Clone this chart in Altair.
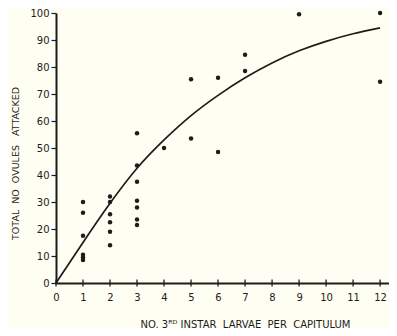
import altair as alt
import pandas as pd

# Scatter points
pt_x = [1, 1, 1, 1, 1, 1,
        2, 2, 2, 2, 2, 2,
        3, 3, 3, 3, 3, 3, 3,
        4, 5, 5, 6, 6, 7, 7, 9, 12, 12]
pt_y = [30, 26, 17.5, 10.5, 9.5, 8.5,
        32, 30, 25.5, 22.5, 19, 14,
        55.5, 43.5, 37.5, 30.5, 28, 23.5, 21.5,
        50, 75.5, 53.5, 76, 48.5, 84.5, 78.5, 99.5, 100, 74.5]

# Fitted curve
curve_x = [0, 1, 2, 3, 4, 5, 6, 7, 8, 9, 10, 11, 12]
curve_y = [0, 15, 29.5, 42.5, 53, 62, 69.5, 76, 81.5, 86, 89.5, 92.3, 94.5]

x_ticks = list(range(0, 13))
y_ticks = list(range(0, 101, 10))

ink = "#1c1c1c"
bg = "#fffef2"
font = "DejaVu Sans"
sp = "\u00a0"

x_title = f"NO. 3ᴿᴰ{sp}INSTAR{sp}{sp}LARVAE{sp}{sp}PER{sp}{sp}CAPITULUM"
y_title = f"TOTAL{sp}{sp}NO{sp}{sp}OVULES{sp}{sp}{sp}ATTACKED"

pts = pd.DataFrame({"x": pt_x, "y": pt_y})
crv = pd.DataFrame({"x": curve_x, "y": curve_y})
tk = pd.DataFrame({"x": x_ticks, "y": [-1.3] * len(x_ticks), "y2": [1.3] * len(x_ticks)})

xscale = alt.Scale(domain=[0, 12.33], nice=False, zero=False)
yscale = alt.Scale(domain=[0, 100], nice=False)

xaxis = alt.Axis(values=x_ticks, title=x_title, labelOverlap=False,
                 ticks=False, labelPadding=9, domainWidth=2, domainColor=ink,
                 labelFontSize=10, labelColor=ink, labelFont=font, grid=False,
                 titleFontSize=10, titleFont=font, titleColor=ink, titleFontWeight="normal",
                 titlePadding=17, titleX=189, labelFlush=False)
yaxis = alt.Axis(values=y_ticks, title=y_title, labelOverlap=False,
                 tickSize=5, tickColor=ink, tickWidth=1.2, domainWidth=2, domainColor=ink,
                 labelFontSize=10, labelColor=ink, labelFont=font, labelPadding=2, grid=False,
                 titleFontSize=9.5, titleFont=font, titleColor=ink, titleFontWeight="normal",
                 titlePadding=9, titleY=150, labelFlush=False)

points = alt.Chart(pts).mark_circle(size=20, color=ink, opacity=1).encode(
    x=alt.X("x:Q", scale=xscale, axis=xaxis),
    y=alt.Y("y:Q", scale=yscale, axis=yaxis),
)
line = alt.Chart(crv).mark_line(color=ink, strokeWidth=1.7, interpolate="natural").encode(
    x=alt.X("x:Q", scale=xscale, axis=xaxis),
    y=alt.Y("y:Q", scale=yscale, axis=yaxis),
)
ticks = alt.Chart(tk).mark_rule(color=ink, strokeWidth=1.3).encode(
    x=alt.X("x:Q", scale=xscale, axis=xaxis),
    y=alt.Y("y:Q", scale=yscale, axis=yaxis),
    y2="y2:Q",
)

chart = alt.layer(points, line, ticks).properties(
    width=333, height=270,
    autosize=alt.AutoSizeParams(type="none"),
    padding={"left": 48, "top": 5, "right": 0, "bottom": 45},
    background=bg,
).configure_view(stroke=None)

chart.save("out.html", embed_options={"renderer": "svg", "actions": False})
